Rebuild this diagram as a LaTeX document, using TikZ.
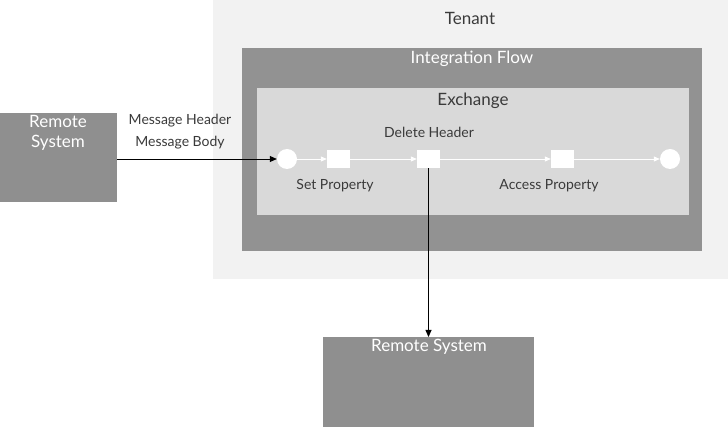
\documentclass[tikz,border=0pt]{standalone}
\usepackage{fontspec}
\setmainfont{Lato}
\usetikzlibrary{arrows.meta}
\definecolor{tenantbg}{HTML}{F2F2F2}
\definecolor{flowbg}{HTML}{929292}
\definecolor{exbg}{HTML}{D9D9D9}
\definecolor{remotebg}{HTML}{8F8F8F}
\definecolor{txtdark}{HTML}{3A3A3A}
\begin{document}
\begin{tikzpicture}[x=1pt,y=-1pt,
  area/.style={draw=none, inner sep=0pt, anchor=north west},
  whitetxt/.style={text=white, font=\fontsize{17}{19}\selectfont, inner sep=0pt},
  darktxt/.style={text=txtdark, font=\fontsize{17}{19}\selectfont, inner sep=0pt},
  smalltxt/.style={text=txtdark, font=\fontsize{14}{16}\selectfont, inner sep=0pt},
  stepbox/.style={fill=white, draw=none, minimum width=23pt, minimum height=18pt, inner sep=0pt},
  event/.style={circle, fill=white, draw=none, minimum size=20pt, inner sep=0pt},
  wflow/.style={draw=white, line width=0.8pt, -{Triangle[length=6pt,width=5pt]}},
  bflow/.style={draw=black, line width=0.8pt, -{Triangle[length=7pt,width=6pt]}}
]
\useasboundingbox (0,0) rectangle (728,427);
\fill[white] (0,0) rectangle (728,427);
% containers
\node[area, fill=tenantbg, minimum width=515pt, minimum height=279pt] (tenant) at (213,0) {};
\node[area, fill=flowbg, minimum width=460pt, minimum height=203pt] (flow) at (242,48) {};
\node[area, fill=exbg, minimum width=432pt, minimum height=127pt] (exchange) at (257,88) {};
\node[area, fill=remotebg, minimum width=117pt, minimum height=89pt] (rsleft) at (0,113) {};
\node[area, fill=remotebg, minimum width=211pt, minimum height=90pt] (rsbottom) at (323,337) {};
% titles
\node[darktxt] (tenantlbl) at (470,18) {Tenant};
\node[whitetxt] (flowlbl) at (472,59) {Integration Flow};
\node[darktxt] (exlbl) at (473,101) {Exchange};
\node[whitetxt, align=center, font=\fontsize{17}{20}\selectfont] (rsleftlbl) at (58,133) {Remote\\System};
\node[whitetxt] (rsbottomlbl) at (429,347) {Remote System};
% steps
\node[event] (start) at (287,159) {};
\node[stepbox] (setprop) at (338.5,159) {};
\node[stepbox] (delhdr) at (428.5,159) {};
\node[stepbox] (accprop) at (562.5,159) {};
\node[event] (end) at (670,159) {};
\draw[wflow] (start) -- (setprop);
\draw[wflow] (setprop) -- (delhdr);
\draw[wflow] (delhdr) -- (accprop);
\draw[wflow] (accprop) -- (end);
% step labels
\node[smalltxt] (setlbl) at (335,186) {Set Property};
\node[smalltxt] (dellbl) at (429,132) {Delete Header};
\node[smalltxt] (acclbl) at (549,186) {Access Property};
% message labels
\node[smalltxt] (mhdr) at (180,121) {Message Header};
\node[smalltxt] (mbody) at (180,143) {Message Body};
% connectors
\draw[bflow] (rsleft.east |- start) -- (start);
\draw[bflow] (delhdr.south) -- (delhdr.south |- rsbottom.north);
\end{tikzpicture}
\end{document}
